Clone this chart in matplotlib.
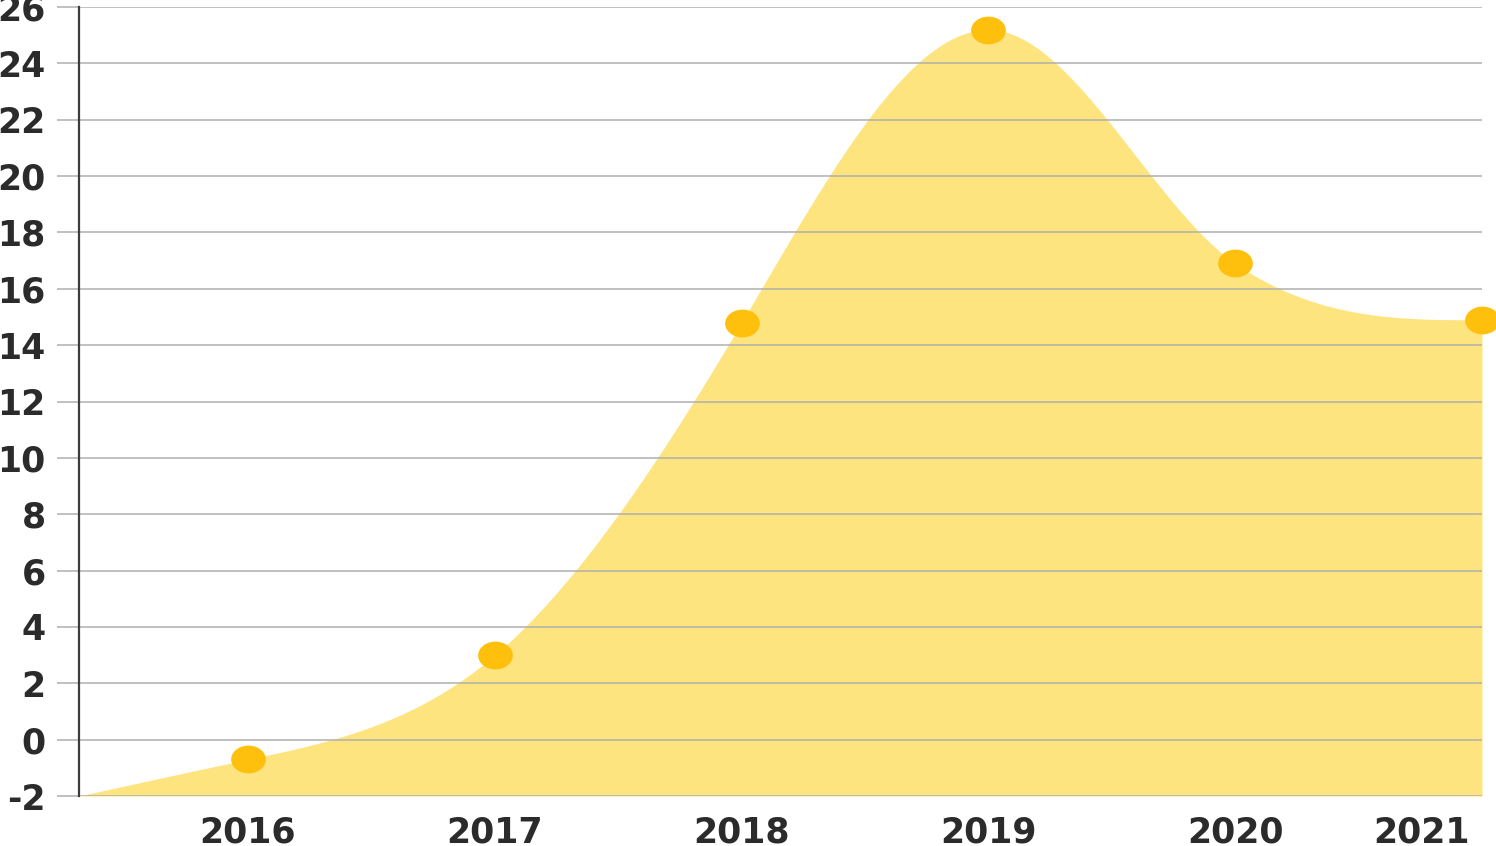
import numpy as np
import matplotlib
matplotlib.use("Agg")
import matplotlib.pyplot as plt
from matplotlib.path import Path
from matplotlib.transforms import ScaledTranslation

plt.rcParams["axes.unicode_minus"] = False

years = ["2016", "2017", "2018", "2019", "2020", "2021"]
values = [-0.7, 3.0, 14.8, 25.2, 16.9, 14.9]
start_value = -2.0  # where the area starts on the left edge
yticks = list(range(-2, 27, 2))

x_left = -0.684


def smooth_curve(xk, yk, xs):
    # natural spline slopes, then a monotone (Hyman) limiter, then Hermite
    xk = np.asarray(xk, float)
    yk = np.asarray(yk, float)
    n = len(xk)
    h = np.diff(xk)
    d = np.diff(yk) / h
    A = np.zeros((n, n))
    r = np.zeros(n)
    A[0, 0] = 1
    A[-1, -1] = 1
    for i in range(1, n - 1):
        A[i, i - 1] = h[i - 1]
        A[i, i] = 2 * (h[i - 1] + h[i])
        A[i, i + 1] = h[i]
        r[i] = 6 * (d[i] - d[i - 1])
    M = np.linalg.solve(A, r)
    m = np.zeros(n)
    m[:-1] = d - h * (2 * M[:-1] + M[1:]) / 6
    m[-1] = d[-1] + h[-1] * (M[-2] + 2 * M[-1]) / 6
    for i in range(n):
        if i == 0:
            lim = [d[0]]
        elif i == n - 1:
            lim = [d[-1]]
        else:
            lim = [d[i - 1], d[i]]
        s = np.sign(lim[0])
        if any(np.sign(v) != s for v in lim) or np.sign(m[i]) != s:
            m[i] = 0.0
        else:
            m[i] = s * min(abs(m[i]), 3 * min(abs(v) for v in lim))
    k = np.clip(np.searchsorted(xk, xs) - 1, 0, n - 2)
    hk = h[k]
    t = (xs - xk[k]) / hk
    h00 = 2 * t**3 - 3 * t**2 + 1
    h10 = t**3 - 2 * t**2 + t
    h01 = -2 * t**3 + 3 * t**2
    h11 = t**3 - t**2
    return h00 * yk[k] + h10 * hk * m[k] + h01 * yk[k + 1] + h11 * hk * m[k + 1]


xpos = np.arange(len(years))
xk = np.concatenate([[x_left], xpos])
yk = np.concatenate([[start_value], values])
xs = np.linspace(x_left, xpos[-1], 800)
ys = smooth_curve(xk, yk, xs)

fig = plt.figure(figsize=(14.96, 8.46), dpi=100)
ax = fig.add_axes([79 / 1496, 1 - 796 / 846, (1482 - 79) / 1496, (796 - 7) / 846])

ax.fill_between(xs, -2, ys, color="#FEE47E", linewidth=0, zorder=1)

t = np.linspace(0, 2 * np.pi, 60)
ell = Path(np.column_stack([1.25 * np.cos(t), np.sin(t)]), closed=True)
ax.plot(xpos, values, linestyle="none", marker=ell, markersize=25,
        color="#FFBF0D", markeredgewidth=0, zorder=4, clip_on=False)

ax.set_xlim(x_left, xpos[-1])
ax.set_ylim(-2, 26)
ax.set_yticks(yticks)
ax.set_xticks(xpos)
ax.set_xticklabels(years)
ax.yaxis.grid(True, color="#AFAFAF", linewidth=1.1, zorder=2)
ax.set_axisbelow(False)
for s in ["top", "right", "bottom"]:
    ax.spines[s].set_visible(False)
ax.spines["left"].set_color("#3c3c3c")
ax.spines["left"].set_linewidth(1.6)
ax.spines["left"].set_zorder(3)

ax.tick_params(axis="y", length=16, width=1.1, color="#AFAFAF", pad=8,
               labelsize=25, labelcolor="#2b2b2b")
ax.tick_params(axis="x", length=0, pad=14, labelsize=25, labelcolor="#2b2b2b")
for lab in ax.get_xticklabels() + ax.get_yticklabels():
    lab.set_fontweight("bold")

last = ax.get_xticklabels()[-1]
last.set_horizontalalignment("right")
last.set_transform(last.get_transform() + ScaledTranslation(-0.12, 0, fig.dpi_scale_trans))

fig.savefig("out.png", dpi=100)
